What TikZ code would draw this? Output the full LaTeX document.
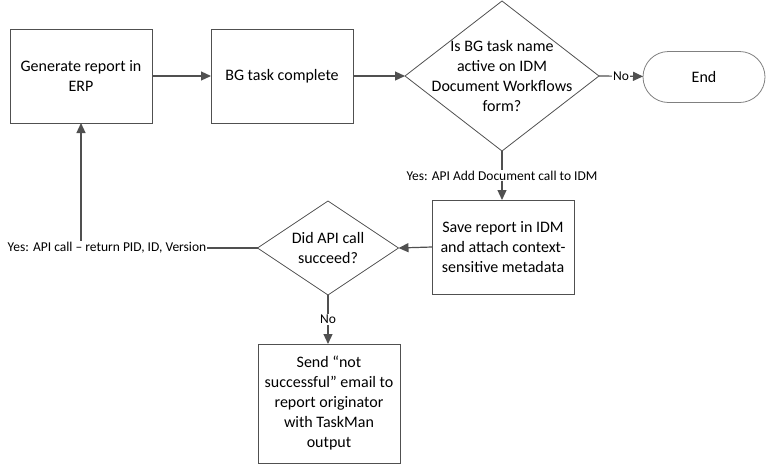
\documentclass[tikz,border=0pt]{standalone}
\usepackage{fontspec}
\setmainfont{Carlito}
\usepackage{tikz}
\usetikzlibrary{arrows.meta,shapes.geometric,shapes.misc}
\definecolor{linegray}{HTML}{505050}

\begin{document}
\begin{tikzpicture}[x=1pt,y=-1pt,
  every node/.style={inner sep=0pt,outer sep=0pt},
  box/.style={draw=linegray,line width=1pt,minimum width=142pt,minimum height=94pt,align=center,font=\fontsize{16}{20}\selectfont},
  dec/.style={draw=linegray,diamond,line width=0.8pt},
  term/.style={draw=gray,rounded rectangle,line width=0.8pt,minimum width=122pt,minimum height=51pt,font=\fontsize{16}{20}\selectfont},
  lbl/.style={fill=white,font=\fontsize{13.5}{15}\selectfont,inner sep=1pt},
  flow/.style={draw=linegray,line width=1.2pt,-{Triangle[length=10pt,width=9pt]}}]
\useasboundingbox (0,0) rectangle (768,464);
% top row
\node[box] (A) at (81,76) {Generate report in\\ERP};
\node[box] (B) at (282,76) {BG task complete};
\node[dec,minimum width=194pt,minimum height=150pt] (C) at (502,76) {};
\node[align=center,font=\fontsize{16}{20}\selectfont] (Ct) at (C) {Is BG task name\\active on IDM\\Document Workflows\\form?};
\node[term] (E) at (704,77) {End};
% lower row
\node[box] (S) at (503,247) {Save report in IDM\\and attach context-\\sensitive metadata};
\node[dec,minimum width=141pt,minimum height=94pt] (D) at (328,248) {};
\node[align=center,font=\fontsize{16}{20}\selectfont] (Dt) at (D) {Did API call\\succeed?};
\node[box,minimum height=119pt] (F) at (329,403.5) {Send \textquotedblleft not\\successful\textquotedblright{} email to\\report originator\\with TaskMan\\output};
% connectors
\draw[flow] (A) -- (B);
\draw[flow] (B) -- (C);
\draw[flow] (C.east) -- node[lbl]{No} (E);
\draw[flow] (C.south) -- node[lbl,pos=0.5]{Yes: API Add Document call to IDM} (S.north -| C.south);
\draw[flow] (S.west) -- (D.east);
\draw[flow] (D.south) -- node[lbl,pos=0.5]{No} (F.north -| D.south);
\draw[flow] (D.west) -- (A.south |- D.west) -- (A.south);
\node[lbl] (Y) at (107,248) {Yes: API call -- return PID, ID, Version};
\end{tikzpicture}
\end{document}
